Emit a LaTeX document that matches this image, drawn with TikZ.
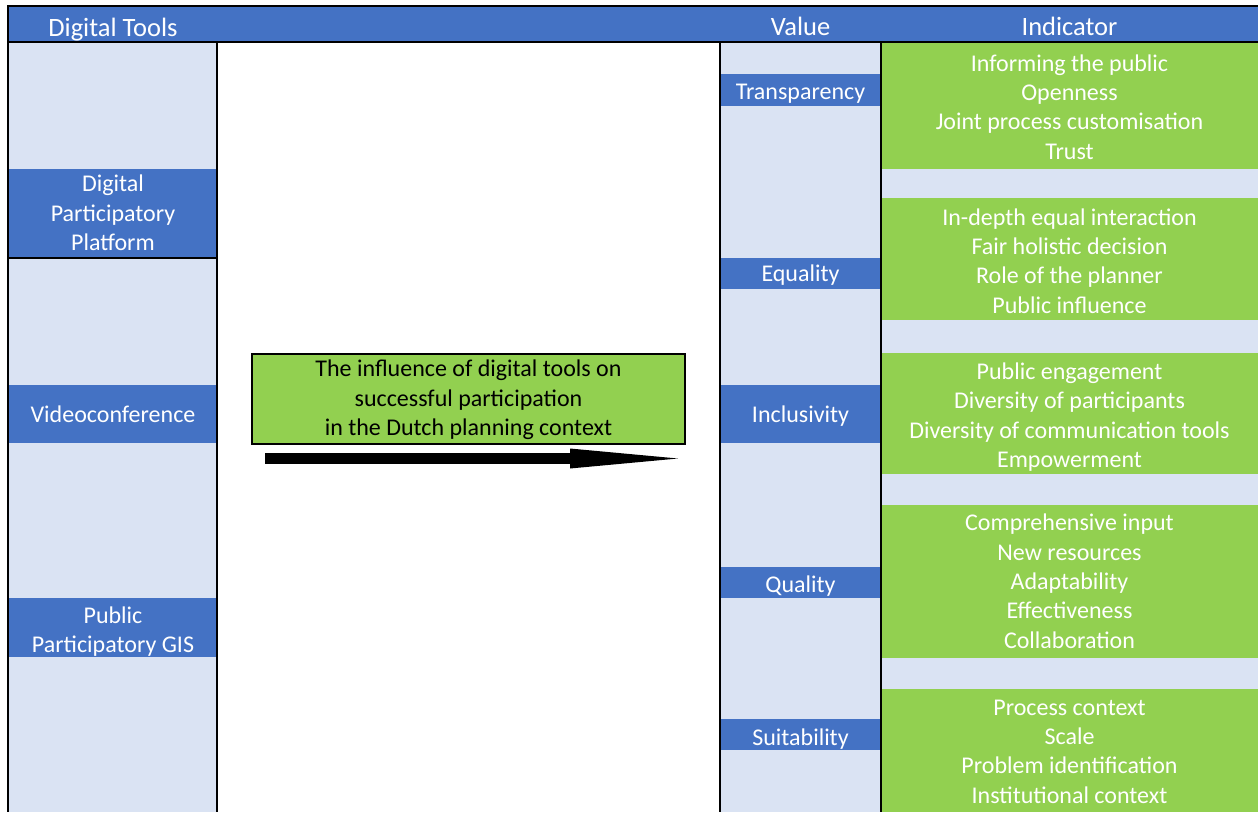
\documentclass[tikz,border=0pt]{standalone}
\usepackage{fontspec}
\setmainfont{Carlito}
\usetikzlibrary{arrows.meta}
\definecolor{hdrblue}{HTML}{4472C4}
\definecolor{paleblue}{HTML}{DAE3F3}
\definecolor{lgreen}{HTML}{92D050}
\begin{document}
\begin{tikzpicture}[x=1pt,y=-1pt,
  txt/.style={font=\fontsize{24}{29.4}\selectfont, align=center, inner sep=0pt, outer sep=0pt, anchor=base},
  hdrtext/.style={txt, text=white, font=\fontsize{26.5}{30}\selectfont},
  wtext/.style={txt, text=white},
  toolbox/.style={fill=hdrblue, inner sep=0pt, minimum width=208pt},
  valbox/.style={fill=hdrblue, inner sep=0pt, minimum width=161pt},
  indbox/.style={fill=lgreen, inner sep=0pt, minimum width=377pt},
  frame/.style={line width=2pt, black},
  midbox/.style={draw=black, line width=2pt, fill=lgreen, inner sep=0pt, minimum width=433pt, minimum height=90pt}
]
\useasboundingbox (0,0) rectangle (1258,812);
% backgrounds
\fill[hdrblue] (8,6) rectangle (1258,42);
\fill[paleblue] (9,42) rectangle (217,812);
\fill[paleblue] (720,42) rectangle (1258,812);
% header texts (anchor=base is the baseline of the last line)
\node[hdrtext] (hTools) at (113,36) {Digital Tools};
\node[hdrtext] (hValue) at (800.5,35.5) {Value};
\node[hdrtext] (hInd) at (1069.5,35.5) {Indicator};
% digital tools
\node[toolbox, minimum height=88pt] (dpp) at (113,213) {};
\node[toolbox, minimum height=58pt] (video) at (113,414) {};
\node[toolbox, minimum height=59pt] (ppgis) at (113,627.5) {};
\node[wtext] (dppT) at (113,250.6) {Digital\\Participatory\\Platform};
\node[wtext] (videoT) at (113,422.7) {Videoconference};
\node[wtext] (ppgisT) at (113,652.7) {Public\\Participatory GIS};
% values
\node[valbox, minimum height=32pt] (transp) at (800.5,90) {};
\node[valbox, minimum height=31pt] (equal) at (800.5,273.5) {};
\node[valbox, minimum height=58pt] (incl) at (800.5,414) {};
\node[valbox, minimum height=31pt] (qual) at (800.5,582.5) {};
\node[valbox, minimum height=31pt] (suit) at (800.5,734.5) {};
\node[wtext] (transpT) at (800.5,99.3) {Transparency};
\node[wtext] (equalT) at (800.5,281.7) {Equality};
\node[wtext] (inclT) at (800.5,422.7) {Inclusivity};
\node[wtext] (qualT) at (800.5,592.7) {Quality};
\node[wtext] (suitT) at (800.5,745) {Suitability};
% indicator boxes
\node[indbox, minimum height=126pt] (g1) at (1069.5,106) {};
\node[indbox, minimum height=122pt] (g2) at (1069.5,259) {};
\node[indbox, minimum height=121pt] (g3) at (1069.5,413.5) {};
\node[indbox, minimum height=153pt] (g4) at (1069.5,581.5) {};
\node[indbox, minimum height=123pt] (g5) at (1069.5,750.5) {};
\node[wtext] (t1) at (1069.5,159.2) {Informing the public\\Openness\\Joint process customisation\\Trust};
\node[wtext] (t2) at (1069.5,313.2) {In-depth equal interaction\\Fair holistic decision\\Role of the planner\\Public influence};
\node[wtext] (t3) at (1069.5,467.5) {Public engagement\\Diversity of participants\\Diversity of communication tools\\Empowerment};
\node[wtext] (t4) at (1069.5,648.3) {Comprehensive input\\New resources\\Adaptability\\Effectiveness\\Collaboration};
\node[wtext] (t5) at (1069.5,803.2) {Process context\\Scale\\Problem identification\\Institutional context};
% frame lines
\draw[frame] (8,6) -- (1258,6);
\draw[frame] (8,42) -- (1258,42);
\draw[frame] (8,5) -- (8,812);
\draw[frame] (217,42) -- (217,812);
\draw[frame] (720,42) -- (720,812);
\draw[frame] (881,42) -- (881,812);
\draw[frame] (9,258) -- (217,258);
% central box and arrow
\node[midbox] (mid) at (468.5,398.5) {};
\node[txt, text=black] (midT) at (468.5,435.5) {The influence of digital tools on\\successful participation\\in the Dutch planning context};
\coordinate (arrS) at (265,458.5);
\coordinate (arrE) at (678,458.5);
\draw[line width=11pt, -{Triangle[length=108pt, width=20pt, line width=0pt]}] (arrS) -- (arrE);
\end{tikzpicture}
\end{document}
